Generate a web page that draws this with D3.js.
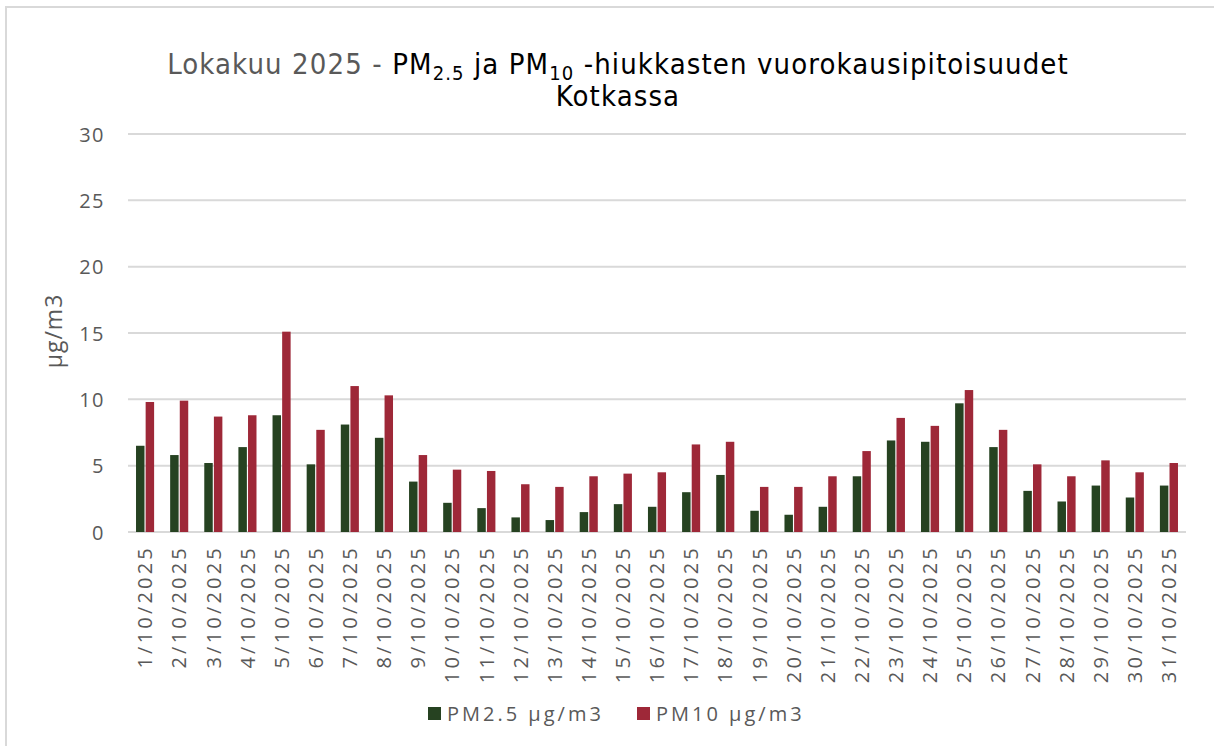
<!DOCTYPE html>
<html>
<head>
<meta charset="utf-8">
<script src="https://cdn.jsdelivr.net/npm/d3@7"></script>
<style>
  body { margin: 0; background: #fff; }
  svg { display: block; }
  .tick text { fill: #595959; font-family: "Open Sans", sans-serif; }
  .title { font-family: "DejaVu Sans", sans-serif; font-stretch: condensed; font-size: 29px; letter-spacing: 1.1px; }
  .legend-label { font-family: "Open Sans", sans-serif; font-size: 20px; letter-spacing: 3px; fill: #595959; }
</style>
</head>
<body>
<div id="chart"></div>
<script>
//data
const dates = d3.range(1, 32).map((d) => `${d}/10/2025`);
const pm25 = [6.5, 5.8, 5.2, 6.4, 8.8, 5.1, 8.1, 7.1, 3.8, 2.2, 1.8, 1.1, 0.9, 1.5, 2.1, 1.9, 3.0, 4.3, 1.6, 1.3, 1.9, 4.2, 6.9, 6.8, 9.7, 6.4, 3.1, 2.3, 3.5, 2.6, 3.5];
const pm10 = [9.8, 9.9, 8.7, 8.8, 15.1, 7.7, 11.0, 10.3, 5.8, 4.7, 4.6, 3.6, 3.4, 4.2, 4.4, 4.5, 6.6, 6.8, 3.4, 3.4, 4.2, 6.1, 8.6, 8.0, 10.7, 7.7, 5.1, 4.2, 5.4, 4.5, 5.2];
const seriesNames = ["PM2.5 µg/m3", "PM10 µg/m3"];
const yTicks = [0, 5, 10, 15, 20, 25, 30];

const colors = ["#264221", "#9e2838"];

//size
const width = 1214;
const height = 746;
const margin = { top: 134, right: 28, bottom: 214, left: 128 };
const innerWidth = width - margin.left - margin.right;
const innerHeight = height - margin.top - margin.bottom;

const rows = dates.map((d, i) => ({ date: d, values: [pm25[i], pm10[i]] }));

//scale
const x0 = d3.scaleBand().domain(dates).range([0, innerWidth]).paddingInner(0.47).paddingOuter(0.235);
const x1 = d3.scaleBand().domain([0, 1]).range([0, x0.bandwidth()]).paddingInner(0.12);
const y = d3.scaleLinear().domain([0, 30]).range([innerHeight, 0]);

//create element
const svg = d3.select("#chart").append("svg").attr("width", width).attr("height", height);

// outer frame (only top and left edges are in view)
svg.append("path")
  .attr("d", `M6,${height}V7H${width}`)
  .attr("fill", "none").attr("stroke", "#d9d9d9").attr("stroke-width", 2);

const g = svg.append("g").attr("transform", `translate(${margin.left},${margin.top})`);

//grid
g.selectAll("line.grid")
  .data(yTicks)
  .join("line")
  .attr("class", "grid")
  .attr("x1", 0).attr("x2", innerWidth)
  .attr("y1", (d) => y(d)).attr("y2", (d) => y(d))
  .attr("stroke", "#d9d9d9").attr("stroke-width", 2);

//y axis
const yAxis = g.append("g").call(d3.axisLeft(y).tickValues(yTicks).tickSize(0).tickPadding(23));
yAxis.select(".domain").remove();
yAxis.selectAll("text").attr("font-size", 20).attr("letter-spacing", 1.5).attr("dy", "0.35em");

//x axis
const xAxis = g.append("g")
  .attr("transform", `translate(0,${innerHeight})`)
  .call(d3.axisBottom(x0).tickSize(0));
xAxis.select(".domain").remove();
xAxis.selectAll("text")
  .attr("font-size", 20)
  .attr("letter-spacing", 3.2)
  .attr("transform", "rotate(-90)")
  .attr("text-anchor", "end")
  .attr("x", -13)
  .attr("y", 0)
  .attr("dy", "0.36em");

//bars
const group = g.selectAll("g.day")
  .data(rows)
  .join("g")
  .attr("class", "day")
  .attr("transform", (d) => `translate(${x0(d.date)},0)`);

group.selectAll("rect")
  .data((d) => d.values.map((v, i) => ({ v, i })))
  .join("rect")
  .attr("x", (d) => x1(d.i))
  .attr("width", x1.bandwidth())
  .attr("y", (d) => y(d.v))
  .attr("height", (d) => y(0) - y(d.v))
  .attr("fill", (d) => colors[d.i]);

//axis title
svg.append("text")
  .attr("transform", "translate(62,331) rotate(-90)")
  .attr("text-anchor", "middle")
  .attr("font-family", "Open Sans, sans-serif")
  .attr("font-size", 23)
  .attr("letter-spacing", 1)
  .attr("fill", "#595959")
  .text("µg/m3");

//title
const title = svg.append("text")
  .attr("class", "title")
  .attr("x", 618).attr("y", 74)
  .attr("text-anchor", "middle");
title.append("tspan").attr("fill", "#595959").text("Lokakuu 2025 - ");
title.append("tspan").attr("fill", "#000").text("PM");
title.append("tspan").attr("fill", "#000").attr("font-size", 20).attr("dy", 6).text("2.5");
title.append("tspan").attr("fill", "#000").attr("dy", -6).text(" ja PM");
title.append("tspan").attr("fill", "#000").attr("font-size", 20).attr("dy", 6).text("10");
title.append("tspan").attr("fill", "#000").attr("dy", -6).text(" -hiukkasten vuorokausipitoisuudet");

svg.append("text")
  .attr("class", "title")
  .attr("x", 618).attr("y", 106)
  .attr("text-anchor", "middle")
  .attr("fill", "#000")
  .text("Kotkassa");

//legend
const legendPos = [428, 637];
const legend = svg.selectAll("g.legend-item")
  .data(seriesNames)
  .join("g")
  .attr("class", "legend-item")
  .attr("transform", (d, i) => `translate(${legendPos[i]},707)`);
legend.append("rect").attr("width", 13).attr("height", 13).attr("fill", (d, i) => colors[i]);
legend.append("text").attr("class", "legend-label").attr("x", 19).attr("y", 14).text((d) => d);
</script>
</body>
</html>
